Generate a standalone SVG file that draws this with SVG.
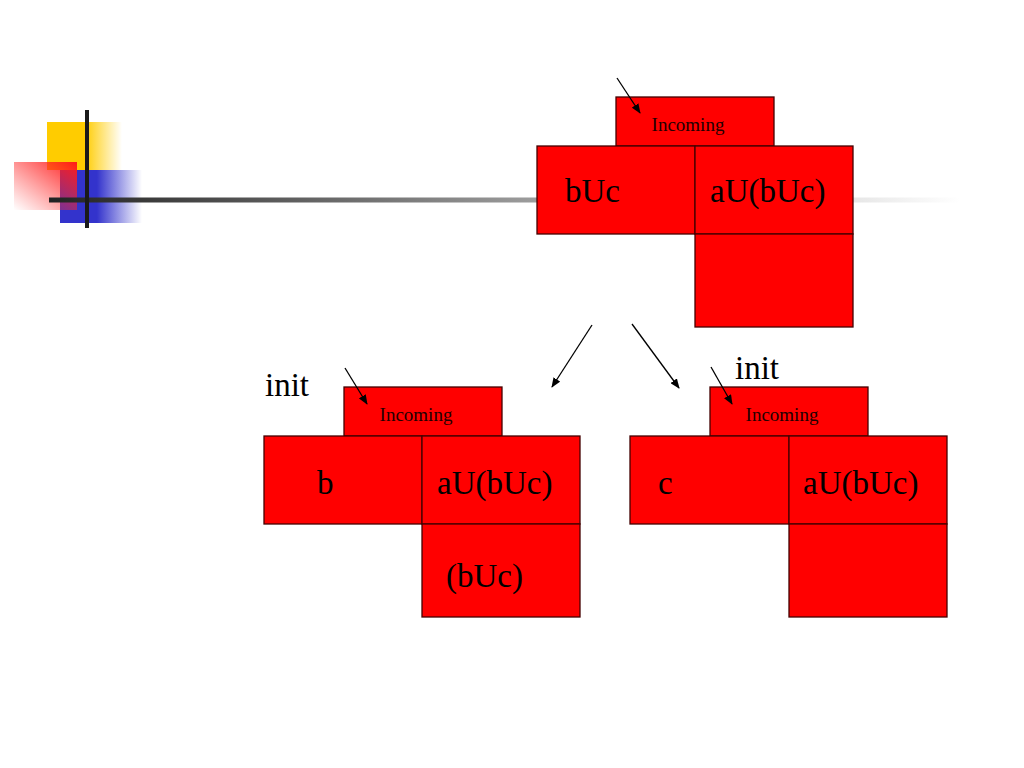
<svg xmlns="http://www.w3.org/2000/svg" width="1024" height="768" viewBox="0 0 1024 768">
<defs>
<linearGradient id="gy" x1="0" y1="0" x2="1" y2="0"><stop offset="0" stop-color="#ffcc00"/><stop offset="0.5" stop-color="#ffcc00"/><stop offset="1" stop-color="#ffcc00" stop-opacity="0"/></linearGradient>
<linearGradient id="gb" x1="0" y1="0" x2="1" y2="0"><stop offset="0" stop-color="#3333cc"/><stop offset="0.45" stop-color="#3333cc"/><stop offset="1" stop-color="#3333cc" stop-opacity="0"/></linearGradient>
<linearGradient id="gr" x1="1" y1="0" x2="0" y2="1"><stop offset="0" stop-color="#ff1a1a"/><stop offset="1" stop-color="#ff3333" stop-opacity="0"/></linearGradient>
<linearGradient id="gl" gradientUnits="userSpaceOnUse" x1="49" y1="0" x2="960" y2="0"><stop offset="0" stop-color="#222"/><stop offset="0.55" stop-color="#a0a0a0"/><stop offset="1" stop-color="#fff"/></linearGradient>
<marker id="ah" markerWidth="10" markerHeight="8" refX="9" refY="4" orient="auto" markerUnits="userSpaceOnUse"><path d="M0,0 L10,4 L0,8 Z" fill="#000"/></marker>
<style>
.box{fill:#ff0000;stroke:#400;stroke-width:1.3}
.lab{font-family:"Liberation Serif",serif;font-size:33px;fill:#000}
.inc{font-family:"Liberation Serif",serif;font-size:19px;fill:#200}
.con{stroke:#000;stroke-width:1.3;fill:none;marker-end:url(#ah)}
</style>
</defs>
<g id="decoration">
<rect x="47" y="122" width="75" height="48" fill="url(#gy)"/>
<rect x="60" y="170" width="82" height="53" fill="url(#gb)"/>
<rect x="14" y="162" width="63" height="48" fill="url(#gr)"/>
<rect x="49" y="197.5" width="911" height="5" fill="url(#gl)"/>
<rect x="85" y="110" width="4" height="118" fill="#1a1a1a"/>
</g>
<g id="node-top">
<rect class="box" x="616" y="97" width="158" height="49"/>
<rect class="box" x="537" y="146" width="158" height="88"/>
<rect class="box" x="695" y="146" width="158" height="88"/>
<rect class="box" x="695" y="234" width="158" height="93"/>
<text class="inc" x="688" y="131" text-anchor="middle">Incoming</text>
<text class="lab" x="565" y="202">bUc</text>
<text class="lab" x="710" y="202">aU(bUc)</text>
</g>
<g id="node-left">
<rect class="box" x="344" y="387" width="158" height="49"/>
<rect class="box" x="264" y="436" width="158" height="88"/>
<rect class="box" x="422" y="436" width="158" height="88"/>
<rect class="box" x="422" y="524" width="158" height="93"/>
<text class="inc" x="416" y="421" text-anchor="middle">Incoming</text>
<text class="lab" x="317" y="494">b</text>
<text class="lab" x="437" y="494">aU(bUc)</text>
<text class="lab" x="446" y="587">(bUc)</text>
<text class="lab" x="265" y="396">init</text>
</g>
<g id="node-right">
<rect class="box" x="710" y="387" width="158" height="49"/>
<rect class="box" x="630" y="436" width="159" height="88"/>
<rect class="box" x="789" y="436" width="158" height="88"/>
<rect class="box" x="789" y="524" width="158" height="93"/>
<text class="inc" x="782" y="421" text-anchor="middle">Incoming</text>
<text class="lab" x="658" y="494">c</text>
<text class="lab" x="803" y="494">aU(bUc)</text>
<text class="lab" x="735" y="379">init</text>
</g>
<g id="connectors">
<line class="con" x1="617" y1="78" x2="640" y2="113"/>
<line class="con" x1="345" y1="368" x2="367" y2="404"/>
<line class="con" x1="711" y1="367" x2="732" y2="404"/>
<line class="con" x1="592" y1="325" x2="552" y2="387"/>
<line class="con" x1="632" y1="324" x2="679" y2="388"/>
</g>
</svg>
